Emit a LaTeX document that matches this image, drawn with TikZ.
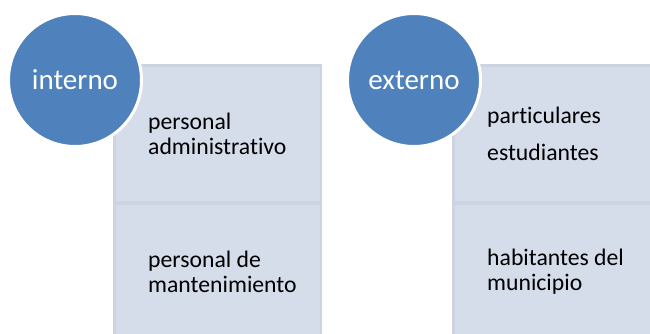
\documentclass[tikz,border=0pt]{standalone}
\usepackage{fontspec}
\setmainfont{Carlito}[Ligatures=NoCommon]
\usepackage{tikz}
\usetikzlibrary{positioning}
\definecolor{azul}{RGB}{79,129,189}
\definecolor{celeste}{RGB}{213,220,234}
\definecolor{borde}{RGB}{204,212,228}

\begin{document}
\begin{tikzpicture}[x=1pt,y=-1pt,
celda/.style={rectangle,fill=celeste,draw=borde,line width=2.5pt,minimum width=206.5pt,minimum height=136.5pt,anchor=north west,inner sep=0pt},
grupo/.style={circle,fill=azul,draw=white,line width=3pt,minimum size=133pt,inner sep=0pt,text=white,font=\fontsize{29}{30}\selectfont},
item/.style={align=left,inner sep=0pt,font=\fontsize{23.7}{25}\selectfont}
]
\useasboundingbox (0,0) rectangle (650,333);
\clip (0,0) rectangle (650,333);
% celdas
\node (intsup) [celda] at (113,64) {};
\node (intinf) [celda] at (113,202) {};
\node (extsup) [celda] at (452,64) {};
\node (extinf) [celda] at (452,202) {};
% circulos
\node (int) [grupo] at (75,80) {interno};
\node (ext) [grupo] at (414,80) {externo};
% textos
\node (admin) [item,right=35pt of intsup.west] {personal\\administrativo};
\node (mant) [item,right=35pt of intinf.west] {personal de\\mantenimiento};
\node (part) [item,right=35pt of extsup.west] {particulares\\[12pt]estudiantes};
\node (hab) [item,right=35pt of extinf.west] {habitantes del\\municipio};
\end{tikzpicture}
\end{document}
